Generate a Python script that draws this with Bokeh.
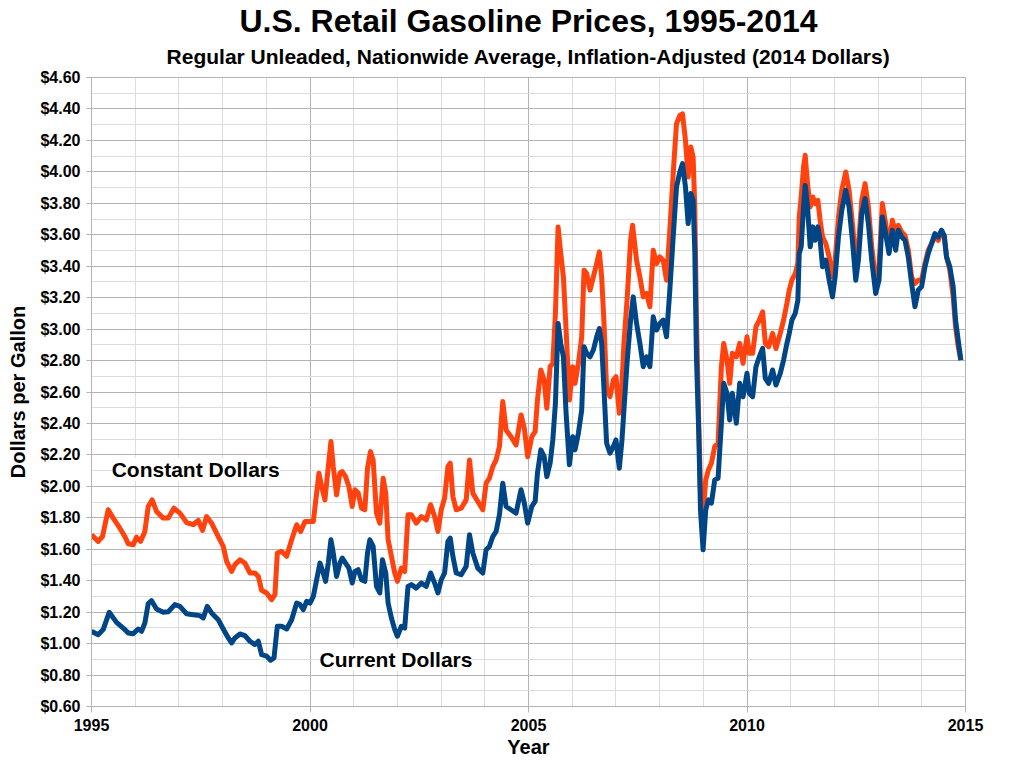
from bokeh.plotting import figure
from bokeh.models import (Range1d, FixedTicker, NumeralTickFormatter, Title, Label,
                          ColumnDataSource)
from bokeh.embed import file_html
from bokeh.resources import INLINE

# ---------------- data ----------------
current_year = [
    1995.000, 1995.153, 1995.267, 1995.405, 1995.573, 1995.725, 1995.840, 1995.954,
    1996.069, 1996.145, 1996.221, 1996.298, 1996.374, 1996.489, 1996.641, 1996.756,
    1996.908, 1997.023, 1997.176, 1997.328, 1997.481, 1997.557, 1997.649, 1997.748,
    1997.901, 1998.015, 1998.130, 1998.206, 1998.282, 1998.397, 1998.511, 1998.626,
    1998.740, 1998.817, 1998.893, 1999.008, 1999.099, 1999.176, 1999.252, 1999.351,
    1999.466, 1999.580, 1999.695, 1999.771, 1999.847, 1999.924,
    2000.000, 2000.076, 2000.152, 2000.228, 2000.304, 2000.357, 2000.418, 2000.479,
    2000.532, 2000.608, 2000.684, 2000.738, 2000.814, 2000.890, 2000.966, 2001.027,
    2001.103, 2001.179, 2001.255, 2001.316, 2001.369, 2001.445, 2001.521, 2001.597,
    2001.658, 2001.734, 2001.787, 2001.863, 2001.939, 2002.000, 2002.091, 2002.167,
    2002.243, 2002.319, 2002.433, 2002.548, 2002.662, 2002.760, 2002.852, 2002.928,
    2003.004, 2003.080, 2003.156, 2003.209, 2003.270, 2003.346, 2003.460, 2003.574,
    2003.650, 2003.726, 2003.840, 2003.954, 2004.030, 2004.106, 2004.183, 2004.259,
    2004.335, 2004.411, 2004.487, 2004.601, 2004.715, 2004.829, 2004.905, 2004.981,
    2005.076, 2005.152, 2005.205, 2005.282, 2005.358, 2005.419, 2005.495, 2005.556,
    2005.616, 2005.677, 2005.738, 2005.799, 2005.860, 2005.936, 2006.012, 2006.065,
    2006.142, 2006.218, 2006.271, 2006.332, 2006.408, 2006.484, 2006.560, 2006.621,
    2006.674, 2006.728, 2006.788, 2006.865, 2006.941, 2007.002, 2007.078, 2007.139,
    2007.184, 2007.260, 2007.336, 2007.397, 2007.473, 2007.549, 2007.626, 2007.702,
    2007.778, 2007.854, 2007.930, 2008.006, 2008.082, 2008.158, 2008.234, 2008.311,
    2008.387, 2008.463, 2008.524, 2008.592, 2008.653, 2008.714, 2008.767, 2008.805,
    2008.843, 2008.896, 2008.935, 2008.995, 2009.056, 2009.117, 2009.186, 2009.262,
    2009.338, 2009.414, 2009.467, 2009.543, 2009.604, 2009.665, 2009.756, 2009.833,
    2009.909,
    2010.000, 2010.053, 2010.129, 2010.205, 2010.282, 2010.358, 2010.419, 2010.495,
    2010.586, 2010.662, 2010.761, 2010.837, 2010.913, 2010.967, 2011.027, 2011.104,
    2011.164, 2011.195, 2011.240, 2011.294, 2011.332, 2011.385, 2011.446, 2011.507,
    2011.560, 2011.621, 2011.674, 2011.728, 2011.804, 2011.880, 2011.956, 2012.017,
    2012.093, 2012.169, 2012.260, 2012.336, 2012.412, 2012.489, 2012.549, 2012.626,
    2012.702, 2012.778, 2012.854, 2012.945, 2013.021, 2013.097, 2013.174, 2013.250,
    2013.326, 2013.402, 2013.463, 2013.539, 2013.615, 2013.691, 2013.767, 2013.843,
    2013.919, 2013.995, 2014.072, 2014.148, 2014.224, 2014.300, 2014.376, 2014.452,
    2014.513, 2014.566, 2014.642, 2014.718, 2014.772, 2014.833, 2014.893,
]
current_price = [
    1.078, 1.057, 1.089, 1.199, 1.135, 1.099, 1.068, 1.063,
    1.093, 1.078, 1.131, 1.254, 1.273, 1.220, 1.199, 1.203,
    1.248, 1.237, 1.190, 1.184, 1.178, 1.163, 1.237, 1.195,
    1.152, 1.093, 1.036, 1.004, 1.036, 1.061, 1.051, 1.015,
    0.994, 1.015, 0.930, 0.920, 0.894, 0.909, 1.110, 1.110,
    1.093, 1.152, 1.258, 1.248, 1.216, 1.269,
    1.258, 1.300, 1.406, 1.512, 1.449, 1.396, 1.512, 1.660,
    1.576, 1.427, 1.512, 1.544, 1.512, 1.480, 1.385, 1.459,
    1.470, 1.406, 1.396, 1.576, 1.660, 1.618, 1.364, 1.322,
    1.533, 1.449, 1.258, 1.163, 1.089, 1.047, 1.110, 1.099,
    1.364, 1.375, 1.353, 1.385, 1.364, 1.449, 1.385, 1.322,
    1.406, 1.449, 1.650, 1.671, 1.555, 1.449, 1.438, 1.491,
    1.692, 1.576, 1.480, 1.449, 1.597, 1.618, 1.681, 1.713,
    1.819, 2.020, 1.872, 1.851, 1.830, 1.978, 1.893, 1.766,
    1.872, 1.904, 2.084, 2.232, 2.189, 2.062, 2.147, 2.295,
    2.528, 3.036, 2.909, 2.824, 2.465, 2.137, 2.316, 2.232,
    2.338, 2.486, 2.888, 2.846, 2.824, 2.867, 2.951, 3.004,
    2.909, 2.613, 2.274, 2.211, 2.253, 2.295, 2.115, 2.295,
    2.486, 2.803, 3.057, 3.205, 3.036, 2.909, 2.761, 2.824,
    2.761, 3.078, 2.994, 3.036, 3.057, 2.951, 3.248, 3.586,
    3.904, 3.999, 4.052, 3.904, 3.671, 3.862, 3.819, 3.502,
    2.824, 2.338, 1.851, 1.597, 1.851, 1.914, 1.893, 2.041,
    2.052, 2.401, 2.655, 2.592, 2.422, 2.592, 2.401, 2.655,
    2.570,
    2.719, 2.592, 2.570, 2.761, 2.824, 2.877, 2.687, 2.655,
    2.740, 2.644, 2.719, 2.803, 2.909, 2.973, 3.057, 3.100,
    3.184, 3.481, 3.523, 3.777, 3.914, 3.777, 3.523, 3.650,
    3.565, 3.650, 3.565, 3.396, 3.438, 3.311, 3.205, 3.332,
    3.586, 3.756, 3.883, 3.777, 3.565, 3.311, 3.438, 3.734,
    3.830, 3.671, 3.438, 3.227, 3.311, 3.713, 3.607, 3.481,
    3.629, 3.502, 3.629, 3.586, 3.565, 3.459, 3.290, 3.142,
    3.248, 3.269, 3.396, 3.481, 3.544, 3.607, 3.586, 3.629,
    3.595, 3.459, 3.396, 3.269, 3.057, 2.930, 2.803,
]

constant_year = [
    1995.000, 1995.153, 1995.252, 1995.382, 1995.496, 1995.649, 1995.763, 1995.840,
    1995.954, 1996.031, 1996.122, 1996.221, 1996.298, 1996.389, 1996.489, 1996.641,
    1996.756, 1996.885, 1997.023, 1997.176, 1997.328, 1997.443, 1997.542, 1997.634,
    1997.748, 1997.901, 1998.015, 1998.092, 1998.206, 1998.282, 1998.397, 1998.511,
    1998.626, 1998.740, 1998.817, 1998.893, 1999.008, 1999.122, 1999.198, 1999.252,
    1999.351, 1999.466, 1999.580, 1999.695, 1999.786, 1999.885,
    2000.000, 2000.076, 2000.152, 2000.205, 2000.266, 2000.342, 2000.403, 2000.479,
    2000.532, 2000.608, 2000.684, 2000.738, 2000.814, 2000.890, 2000.966, 2001.027,
    2001.103, 2001.179, 2001.255, 2001.316, 2001.384, 2001.445, 2001.521, 2001.597,
    2001.673, 2001.734, 2001.787, 2001.863, 2001.939, 2002.000, 2002.091, 2002.167,
    2002.243, 2002.319, 2002.433, 2002.548, 2002.662, 2002.760, 2002.852, 2002.928,
    2003.004, 2003.080, 2003.156, 2003.209, 2003.270, 2003.346, 2003.460, 2003.574,
    2003.650, 2003.726, 2003.840, 2003.954, 2004.030, 2004.106, 2004.183, 2004.259,
    2004.335, 2004.411, 2004.487, 2004.601, 2004.715, 2004.829, 2004.905, 2004.981,
    2005.076, 2005.152, 2005.205, 2005.282, 2005.358, 2005.419, 2005.495, 2005.556,
    2005.616, 2005.677, 2005.738, 2005.799, 2005.860, 2005.936, 2006.012, 2006.065,
    2006.142, 2006.218, 2006.271, 2006.332, 2006.408, 2006.484, 2006.560, 2006.621,
    2006.674, 2006.728, 2006.788, 2006.865, 2006.941, 2007.002, 2007.078, 2007.139,
    2007.184, 2007.260, 2007.336, 2007.382, 2007.473, 2007.549, 2007.626, 2007.702,
    2007.778, 2007.854, 2007.930, 2008.006, 2008.082, 2008.158, 2008.234, 2008.311,
    2008.387, 2008.463, 2008.524, 2008.592, 2008.653, 2008.714, 2008.767, 2008.805,
    2008.843, 2008.896, 2008.935, 2008.995, 2009.056, 2009.117, 2009.186, 2009.262,
    2009.338, 2009.414, 2009.467, 2009.543, 2009.604, 2009.665, 2009.756, 2009.833,
    2009.909,
    2010.000, 2010.053, 2010.129, 2010.205, 2010.282, 2010.358, 2010.419, 2010.495,
    2010.586, 2010.662, 2010.761, 2010.837, 2010.913, 2010.967, 2011.027, 2011.104,
    2011.164, 2011.195, 2011.240, 2011.294, 2011.332, 2011.385, 2011.446, 2011.507,
    2011.560, 2011.621, 2011.674, 2011.728, 2011.804, 2011.880, 2011.956, 2012.017,
    2012.093, 2012.169, 2012.260, 2012.336, 2012.412, 2012.489, 2012.549, 2012.626,
    2012.702, 2012.778, 2012.854, 2012.945, 2013.021, 2013.097, 2013.174, 2013.250,
    2013.326, 2013.402, 2013.463, 2013.539, 2013.615, 2013.691, 2013.767, 2013.843,
    2013.919, 2013.995, 2014.072, 2014.148, 2014.224, 2014.300, 2014.376, 2014.452,
    2014.513, 2014.566, 2014.642, 2014.718, 2014.772, 2014.833, 2014.893,
]
constant_price = [
    1.692, 1.650, 1.681, 1.851, 1.798, 1.734, 1.681, 1.635,
    1.629, 1.677, 1.650, 1.713, 1.872, 1.914, 1.840, 1.798,
    1.798, 1.861, 1.830, 1.770, 1.756, 1.783, 1.720, 1.808,
    1.766, 1.681, 1.618, 1.523, 1.459, 1.502, 1.533, 1.512,
    1.449, 1.449, 1.427, 1.339, 1.322, 1.279, 1.311, 1.576,
    1.586, 1.555, 1.660, 1.756, 1.713, 1.777,
    1.777, 1.777, 1.957, 2.084, 1.999, 1.914, 2.084, 2.285,
    2.126, 1.946, 2.084, 2.094, 2.062, 1.999, 1.872, 1.978,
    1.957, 1.861, 1.851, 2.115, 2.221, 2.168, 1.830, 1.766,
    2.052, 1.957, 1.660, 1.555, 1.449, 1.396, 1.480, 1.459,
    1.819, 1.819, 1.766, 1.808, 1.787, 1.883, 1.808, 1.713,
    1.851, 1.925, 2.126, 2.147, 1.935, 1.851, 1.861, 1.914,
    2.168, 1.957, 1.904, 1.851, 2.020, 2.052, 2.126, 2.168,
    2.253, 2.539, 2.359, 2.316, 2.263, 2.454, 2.369, 2.189,
    2.316, 2.348, 2.549, 2.740, 2.676, 2.496, 2.761, 2.782,
    3.100, 3.650, 3.481, 3.332, 2.994, 2.549, 2.761, 2.655,
    2.782, 2.951, 3.375, 3.353, 3.248, 3.332, 3.417, 3.491,
    3.332, 3.036, 2.613, 2.570, 2.676, 2.697, 2.465, 2.655,
    2.909, 3.205, 3.565, 3.660, 3.438, 3.332, 3.205, 3.227,
    3.142, 3.502, 3.417, 3.459, 3.438, 3.311, 3.629, 3.988,
    4.306, 4.359, 4.369, 4.200, 3.967, 4.158, 4.094, 3.777,
    3.078, 2.401, 1.978, 1.830, 2.041, 2.105, 2.147, 2.253,
    2.274, 2.761, 2.909, 2.803, 2.655, 2.846, 2.824, 2.909,
    2.782,
    2.951, 2.846, 2.846, 3.015, 3.057, 3.110, 2.909, 2.888,
    2.973, 2.877, 2.973, 3.057, 3.163, 3.248, 3.311, 3.353,
    3.420, 3.713, 3.840, 4.031, 4.105, 3.925, 3.777, 3.840,
    3.798, 3.819, 3.692, 3.586, 3.544, 3.459, 3.332, 3.438,
    3.713, 3.883, 3.999, 3.883, 3.671, 3.438, 3.523, 3.819,
    3.925, 3.777, 3.523, 3.311, 3.396, 3.798, 3.671, 3.523,
    3.692, 3.607, 3.660, 3.618, 3.595, 3.502, 3.332, 3.290,
    3.311, 3.311, 3.417, 3.502, 3.544, 3.586, 3.565, 3.618,
    3.595, 3.459, 3.375, 3.205, 3.015, 2.888, 2.803,
]

year_ticks = [1995, 2000, 2005, 2010, 2015]
year_minor = [1996, 1997, 1998, 1999, 2001, 2002, 2003, 2004, 2006, 2007, 2008, 2009,
              2011, 2012, 2013, 2014]
price_ticks = [0.6, 0.8, 1.0, 1.2, 1.4, 1.6, 1.8, 2.0, 2.2, 2.4, 2.6, 2.8, 3.0, 3.2,
               3.4, 3.6, 3.8, 4.0, 4.2, 4.4, 4.6]
price_minor = [0.7, 0.9, 1.1, 1.3, 1.5, 1.7, 1.9, 2.1, 2.3, 2.5, 2.7, 2.9, 3.1, 3.3,
               3.5, 3.7, 3.9, 4.1, 4.3, 4.5]

title_text = "U.S. Retail Gasoline Prices, 1995-2014"
subtitle_text = "Regular Unleaded, Nationwide Average, Inflation-Adjusted (2014 Dollars)"
x_label = "Year"
y_label = "Dollars per Gallon"
constant_label = "Constant Dollars"
current_label = "Current Dollars"

# ---------------- styling ----------------
FONT = "Liberation Sans"
BLUE = "#004586"
ORANGE = "#ff420e"
MAJOR = "#b3b3b3"
MINOR = "#dddddd"

p = figure(width=1008, height=760, output_backend="svg", toolbar_location=None,
           title=None, x_range=Range1d(1995, 2015), y_range=Range1d(0.6, 4.6),
           min_border_left=91, min_border_right=43, min_border_bottom=53,
           min_border_top=77)
p.background_fill_color = "white"
p.border_fill_color = "white"
p.outline_line_color = MAJOR

sub = Title(text=subtitle_text, text_font=FONT, text_font_size="21px",
            text_font_style="bold", align="center", text_color="black", standoff=19)
main = Title(text=title_text, text_font=FONT, text_font_size="32px",
             text_font_style="bold", align="center", text_color="black", standoff=-10)
p.add_layout(sub, "above")
p.add_layout(main, "above")

src_c = ColumnDataSource(dict(x=constant_year, y=constant_price))
src_n = ColumnDataSource(dict(x=current_year, y=current_price))
p.line("x", "y", source=src_c, line_color=ORANGE, line_width=5, line_join="round")
p.line("x", "y", source=src_n, line_color=BLUE, line_width=5, line_join="round")

p.xaxis.ticker = FixedTicker(ticks=year_ticks, minor_ticks=year_minor)
p.yaxis.ticker = FixedTicker(ticks=price_ticks, minor_ticks=price_minor)
p.yaxis.formatter = NumeralTickFormatter(format="$0.00")

for ax in (p.xaxis[0], p.yaxis[0]):
    ax.axis_line_color = MAJOR
    ax.major_tick_line_color = MAJOR
    ax.major_tick_in = 0
    ax.minor_tick_line_color = None
    ax.major_label_text_font = FONT
    ax.major_label_text_font_size = "16px"
    ax.major_label_text_font_style = "bold"
    ax.major_label_text_color = "black"
    ax.axis_label_text_font = FONT
    ax.axis_label_text_font_size = "20px"
    ax.axis_label_text_font_style = "bold"
    ax.axis_label_text_color = "black"

p.xaxis.axis_label = x_label
p.yaxis.axis_label = y_label
p.xaxis.major_tick_out = 6
p.yaxis.major_tick_out = 5
p.xaxis.major_label_standoff = 6
p.yaxis.major_label_standoff = 6
p.xaxis.axis_label_standoff = 2
p.yaxis.axis_label_standoff = 8

for g in (p.xgrid[0], p.ygrid[0]):
    g.grid_line_color = MAJOR
    g.grid_line_width = 1
    g.minor_grid_line_color = MINOR
    g.minor_grid_line_width = 1

lab1 = Label(x=1995.462, y=2.109, text=constant_label, text_font=FONT,
             text_font_size="21px", text_font_style="bold", text_color="black",
             text_baseline="alphabetic", background_fill_color="white")
lab2 = Label(x=2000.219, y=0.900, text=current_label, text_font=FONT,
             text_font_size="21px", text_font_style="bold", text_color="black",
             text_baseline="alphabetic", background_fill_color="white")
p.add_layout(lab1)
p.add_layout(lab2)

open("out.html", "w").write(file_html(p, INLINE))
